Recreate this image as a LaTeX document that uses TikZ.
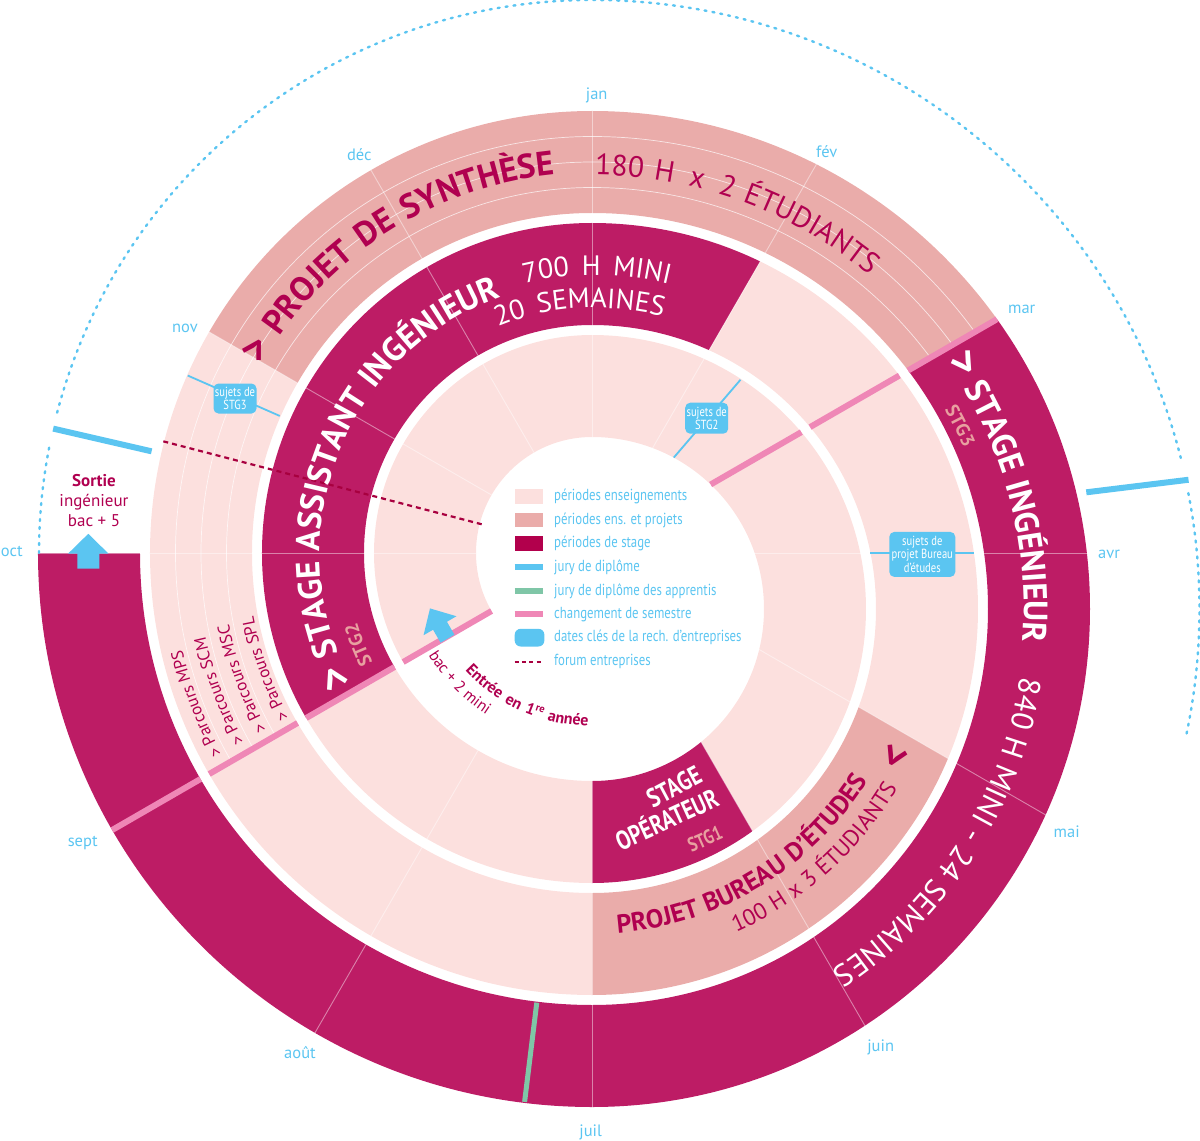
\documentclass[tikz,border=0pt]{standalone}
\usepackage{fontspec}
\setmainfont{PT Sans}
\newfontfamily\condfont{PT Sans}[FakeStretch=0.8]
\newfontfamily\trackfont{PT Sans}[LetterSpace=3]
\newfontfamily\widetrack{PT Sans}[LetterSpace=8]
\newfontfamily\widertrack{PT Sans}[LetterSpace=10]
\newfontfamily\widesttrack{PT Sans}[LetterSpace=16]
\newfontfamily\spacedfont{PT Sans}[LetterSpace=11]
\usetikzlibrary{decorations.text}
\pgfdeclarelayer{edgelayer}
\pgfdeclarelayer{nodelayer}
\pgfsetlayers{edgelayer,nodelayer,main}
\definecolor{lightpink}{HTML}{FCE0DE}
\definecolor{ensproj}{HTML}{EAACAA}
\definecolor{stagecol}{HTML}{BD1C65}
\definecolor{legendstage}{HTML}{B2004C}
\definecolor{juryblue}{HTML}{5BC5F1}
\definecolor{jurygreen}{HTML}{7FC6A7}
\definecolor{semestre}{HTML}{EF87B6}
\definecolor{labelmag}{HTML}{B00050}
\definecolor{stgsalmon}{HTML}{E8A0A0}
\definecolor{forummag}{HTML}{A8003F}
\tikzset{font=\fontsize{16}{18}\selectfont}
\tikzstyle{month}=[text=juryblue, inner sep=0pt, font=\fontsize{16.5}{18}\selectfont]
\tikzstyle{legendtxt}=[anchor=west, text=juryblue, inner sep=0pt, font=\condfont\fontsize{16}{17}\selectfont]
\tikzstyle{callout}=[fill=juryblue, rounded corners=5pt, text=white, align=center, inner sep=1pt, font=\condfont\fontsize{13.2}{13.6}\selectfont]
\tikzstyle{monthline}=[white, opacity=0.45, line width=0.9pt]
\tikzstyle{subline}=[white, opacity=0.7, line width=0.7pt]
\tikzstyle{semline}=[semestre, line width=6pt]
\tikzstyle{juryline}=[juryblue, line width=6pt]
\tikzstyle{pointer}=[juryblue, line width=1.8pt]
\tikzstyle{forum}=[forummag, line width=2.2pt, dash pattern=on 5pt off 4pt]
\tikzstyle{outline}=[juryblue, line width=2.4pt, line cap=round, dash pattern=on 2pt off 6pt]
\tikzstyle{stagetxt}=[text=white, inner sep=0pt, font=\condfont\bfseries\fontsize{26.5}{26.5}\selectfont]
\tikzstyle{sortietxt}=[anchor=base, text=labelmag, inner sep=0pt, font=\fontsize{17}{20}\selectfont]
\newcommand{\spiralpiece}[6]{%
  \begin{scope}
    \clip (0,0) -- (#4:1400) arc[start angle=#4, end angle=#5, radius=1400] -- cycle;
    \fill[#6, even odd rule] (0,#1) circle[radius=#3] (0,#1) circle[radius=#2];
  \end{scope}}

\begin{document}
\begin{tikzpicture}[x=1pt, y=1pt]
	\useasboundingbox (-592,-588) rectangle (608,553);
	\begin{pgfonlayer}{edgelayer}
		\spiralpiece{0}{116}{218}{90}{210}{lightpink}
		\spiralpiece{-56}{172}{274}{-60}{90}{lightpink}
		\spiralpiece{-56}{172}{274}{-90}{-60}{stagecol}
		\spiralpiece{0}{228}{330}{210}{270}{lightpink}
		\spiralpiece{0}{228}{330}{90}{210}{stagecol}
		\spiralpiece{-56}{284}{386}{60}{90}{stagecol}
		\spiralpiece{-56}{284}{386}{-30}{60}{lightpink}
		\spiralpiece{-56}{284}{386}{-90}{-30}{ensproj}
		\spiralpiece{0}{340}{442}{150}{270}{lightpink}
		\spiralpiece{0}{340}{442}{90}{150}{ensproj}
		\spiralpiece{-56}{396}{498}{30}{90}{ensproj}
		\spiralpiece{-56}{396}{498}{-90}{30}{stagecol}
		\spiralpiece{0}{452}{554}{180}{270}{stagecol}

		\foreach \a in {0,30,...,330}
			\draw[monthline] (\a:116) -- (\a:556);
		\begin{scope}
			\clip (0,0) -- (90:1400) arc[start angle=90, end angle=210, radius=1400] -- cycle;
			\foreach \r in {365.5,391,416.5}
				\draw[subline] (0,0) circle[radius=\r];
		\end{scope}
		\begin{scope}
			\clip (0,0) -- (30:1400) arc[start angle=30, end angle=90, radius=1400] -- cycle;
			\foreach \r in {421.5,447,472.5}
				\draw[subline] (0,-56) circle[radius=\r];
		\end{scope}

		\draw[semline] (210:116) -- (210:218);
		\draw[semline] (210:228) -- (210:330);
		\draw[semline] (210:340) -- (210:442);
		\draw[semline] (210:452) -- (210:554);
		\draw[semline] (30:137) -- (30:241.7);
		\draw[semline] (30:251.8) -- (30:354.9);
		\draw[semline] (30:365) -- (30:467.6);

		\draw[juryline] (167:452) -- (167:553);
		\draw[juryline] (7:498) -- (7:601);
		\draw[jurygreen, line width=5pt] (-97:453) -- (-97:553);

		\draw[outline] (180:553) arc[start angle=180, end angle=168.7, radius=553];
		\draw[outline] (165.3:553) arc[start angle=165.3, end angle=90, radius=553] arc[start angle=90, end angle=14, radius=607.5];
		\draw[outline, shift={(0,-56)}] (11:607.5) arc[start angle=11, end angle=-12, radius=607.5];

		\draw[forum] (165.4:114) -- (165.4:443);

		\coordinate (s2a) at (49.4:125.7);
		\coordinate (s2b) at (49.4:228.2);
		\coordinate (s3a) at (156.3:341);
		\coordinate (s3b) at (156.3:441.5);
		\coordinate (sba) at (278.4,0);
		\coordinate (sbb) at (381.5,0);
		\draw[pointer] (s2a) -- (s2b);
		\draw[pointer] (s3a) -- (s3b);
		\draw[pointer] (sba) -- (sbb);

		\fill[juryblue] (-514.7,-15.6) -- (-514.7,-0.5) -- (-523.8,-0.5) -- (-503.7,19.2) -- (-483.6,-0.5) -- (-492.7,-0.5) -- (-492.7,-15.6) -- cycle;
		\fill[juryblue, shift={(210:168)}, rotate=30] (-8,-2) -- (-8,13) -- (-19,13) -- (0,33) -- (19,13) -- (8,13) -- (8,-2) -- cycle;

		\fill[lightpink] (-77.3,49) rectangle (-48.7,63.6);
		\fill[ensproj] (-77.3,25.7) rectangle (-48.7,40.3);
		\fill[legendstage] (-77.3,2.4) rectangle (-48.7,17);
		\draw[juryline] (-77.3,-14.3) -- (-48.7,-14.3);
		\draw[jurygreen, line width=6pt] (-77.3,-38) -- (-48.7,-38);
		\draw[semline] (-77.3,-61.3) -- (-48.7,-61.3);
		\fill[juryblue, rounded corners=6pt] (-77.3,-93.5) rectangle (-47.6,-75.8);
		\draw[forum, line width=2pt, dash pattern=on 4pt off 3.3pt] (-77.3,-108.7) -- (-48.7,-108.7);
	\end{pgfonlayer}

	\begin{pgfonlayer}{nodelayer}
		\node[month] (jan) at (4.7,458) {jan};
		\node[month] (fev) at (234.7,401.3) {fév};
		\node[month] (mar) at (429.7,243.4) {mar};
		\node[month] (avr) at (517,-1) {avr};
		\node[month] (mai) at (474.7,-278.8) {mai};
		\node[month] (juin) at (288.7,-494.3) {juin};
		\node[month] (juil) at (-1.3,-579.7) {juil};
		\node[month] (aout) at (-292,-499.7) {août};
		\node[month] (sept) at (-509.3,-289.9) {sept};
		\node[month] (oct) at (-580.3,1.2) {oct};
		\node[month] (nov) at (-407,225.1) {nov};
		\node[month] (dec) at (-232.7,398.7) {déc};

		\node[callout, minimum width=43pt, minimum height=31pt] (sujets2) at (49.6:177) {sujets de\\STG2};
		\node[callout, minimum width=43pt, minimum height=30pt] (sujets3) at (156.6:389) {sujets de\\STG3};
		\node[callout, minimum width=66pt, minimum height=45pt] (sujetsbe) at (330.3,-1.4) {sujets de\\projet Bureau\\d’études};

		\node[legendtxt] (leg1) at (-38,56.3) {périodes enseignements};
		\node[legendtxt] (leg2) at (-38,33) {périodes ens. et projets};
		\node[legendtxt] (leg3) at (-38,9.7) {périodes de stage};
		\node[legendtxt] (leg4) at (-38,-14.3) {jury de diplôme};
		\node[legendtxt] (leg5) at (-38,-38) {jury de diplôme des apprentis};
		\node[legendtxt] (leg6) at (-38,-61.3) {changement de semestre};
		\node[legendtxt] (leg7) at (-38,-84.7) {dates clés de la rech. d’entreprises};
		\node[legendtxt] (leg8) at (-38,-108.7) {forum entreprises};

		\node[sortietxt, font=\bfseries\fontsize{17}{20}\selectfont] (sortie1) at (-498,66.6) {Sortie};
		\node[sortietxt] (sortie2) at (-498,46.6) {ingénieur};
		\node[sortietxt] (sortie3) at (-498,27) {bac + 5};

		\node[stagetxt, rotate=28] (stg1a) at (82,-234) {STAGE};
		\node[stagetxt, rotate=24.5] (stg1b) at (74,-265) {OPÉRATEUR};
		\node[stagetxt, text=stgsalmon, font=\condfont\bfseries\fontsize{20}{20}\selectfont, rotate=24] (stg1c) at (113,-286) {STG1};
		\node[text=labelmag, inner sep=0pt, font=\bfseries\fontsize{42}{42}\selectfont, rotate=-116] (pbechev) at (302,-203.3) {>};
		\node[text=labelmag, inner sep=0pt, font=\bfseries\fontsize{10.5}{10.5}\selectfont, rotate=-18.3] (premiere) at (-108.3:165) {re};

		\path[decorate, decoration={text along path, text color=labelmag, text={|\bfseries\fontsize{42}{42}\selectfont|>|\bfseries\widertrack\fontsize{34}{34}\selectfont| PROJET DE SYNTHÈSE}}] (150.5:380) arc[start angle=150.5, end angle=90, radius=380] arc[start angle=90, end angle=60, radius=436];
		\path[shift={(0,-56)}, decorate, decoration={text along path, text color=labelmag, text={|\widetrack\fontsize{29.5}{29.5}\selectfont|180 H |\widetrack\fontsize{29.5}{29.5}\selectfont\kern5pt|x|\widetrack\fontsize{29.5}{29.5}\selectfont| |\widetrack\fontsize{29.5}{29.5}\selectfont\kern5pt|2|\widetrack\fontsize{29.5}{29.5}\selectfont| ÉTUDIANTS}}] (89.6:434) arc[start angle=89.6, end angle=20, radius=434];
		\path[decorate, decoration={text along path, text color=white, text={|\bfseries\fontsize{44}{44}\selectfont|>|\bfseries\trackfont\fontsize{33.5}{33.5}\selectfont| STAGE ASSISTANT INGÉNIEUR}}] (208.5:272) arc[start angle=208.5, end angle=90, radius=272] arc[start angle=90, end angle=40, radius=328];
		\path[decorate, decoration={text along path, text color=stgsalmon, text={|\bfseries\fontsize{19}{19}\selectfont|STG2}}] (206.5:245) arc[start angle=206.5, end angle=150, radius=245];
		\path[decorate, decoration={text along path, text color=white, text={|\widesttrack\fontsize{28}{28}\selectfont|700 H MINI}}] (104:278) arc[start angle=104, end angle=90, radius=278] arc[start angle=90, end angle=40, radius=334];
		\path[decorate, decoration={text along path, text color=white, text={|\widesttrack\fontsize{28}{28}\selectfont|20 SEMAINES}}] (112.5:245) arc[start angle=112.5, end angle=90, radius=245] arc[start angle=90, end angle=40, radius=301];

		\path[decorate, decoration={text along path, text color=labelmag, text={|\fontsize{17}{17}\selectfont|> Parcours MPS}}] (208.5:421) arc[start angle=208.5, end angle=170, radius=421];
		\path[decorate, decoration={text along path, text color=labelmag, text={|\fontsize{17}{17}\selectfont|> Parcours SCM}}] (208.5:395.5) arc[start angle=208.5, end angle=170, radius=395.5];
		\path[decorate, decoration={text along path, text color=labelmag, text={|\fontsize{17}{17}\selectfont|> Parcours MSC}}] (208.5:370) arc[start angle=208.5, end angle=170, radius=370];
		\path[decorate, decoration={text along path, text color=labelmag, text={|\fontsize{17}{17}\selectfont|> Parcours SPL}}] (208.5:344.5) arc[start angle=208.5, end angle=170, radius=344.5];

		\path[shift={(0,-56)}, decorate, decoration={text along path, text color=white, text={|\bfseries\fontsize{44}{44}\selectfont|>|\bfseries\trackfont\fontsize{33.5}{33.5}\selectfont| STAGE INGÉNIEUR}}] (35:432) arc[start angle=35, end angle=-40, radius=432];
		\path[shift={(0,-56)}, decorate, decoration={text along path, text color=stgsalmon, text={|\bfseries\fontsize{19}{19}\selectfont|STG3}}] (29.5:405) arc[start angle=29.5, end angle=0, radius=405];
		\path[shift={(0,-56)}, decorate, decoration={text along path, text color=white, text={|\fontsize{31}{31}\selectfont|840 H MINI - 24 SEMAINES}}] (-9:434) arc[start angle=-9, end angle=-80, radius=434];

		\path[shift={(0,-56)}, decorate, decoration={text along path, text color=labelmag, text={|\bfseries\trackfont\fontsize{26}{26}\selectfont|PROJET BUREAU D’ÉTUDES}}] (-85.5:325) arc[start angle=-85.5, end angle=-10, radius=325];
		\path[shift={(0,-56)}, decorate, decoration={text along path, text color=labelmag, text={|\trackfont\fontsize{23}{23}\selectfont|100 H x 3 ÉTUDIANTS}}] (-66:354) arc[start angle=-66, end angle=-10, radius=354];

		\path[decorate, decoration={text along path, text align=right, text color=labelmag, text={|\bfseries\spacedfont\fontsize{16}{16}\selectfont|Entrée en 1}}] (-147:173) arc[start angle=-147, end angle=-110, radius=173];
		\path[decorate, decoration={text along path, text color=labelmag, text={|\bfseries\spacedfont\fontsize{16}{16}\selectfont|année}}] (-105:173) arc[start angle=-105, end angle=-70, radius=173];
		\path[decorate, decoration={text along path, text color=labelmag, text={|\fontsize{16}{16}\selectfont|bac + 2 mini}}] (-148:193) arc[start angle=-148, end angle=-100, radius=193];
	\end{pgfonlayer}
\end{tikzpicture}
\end{document}
